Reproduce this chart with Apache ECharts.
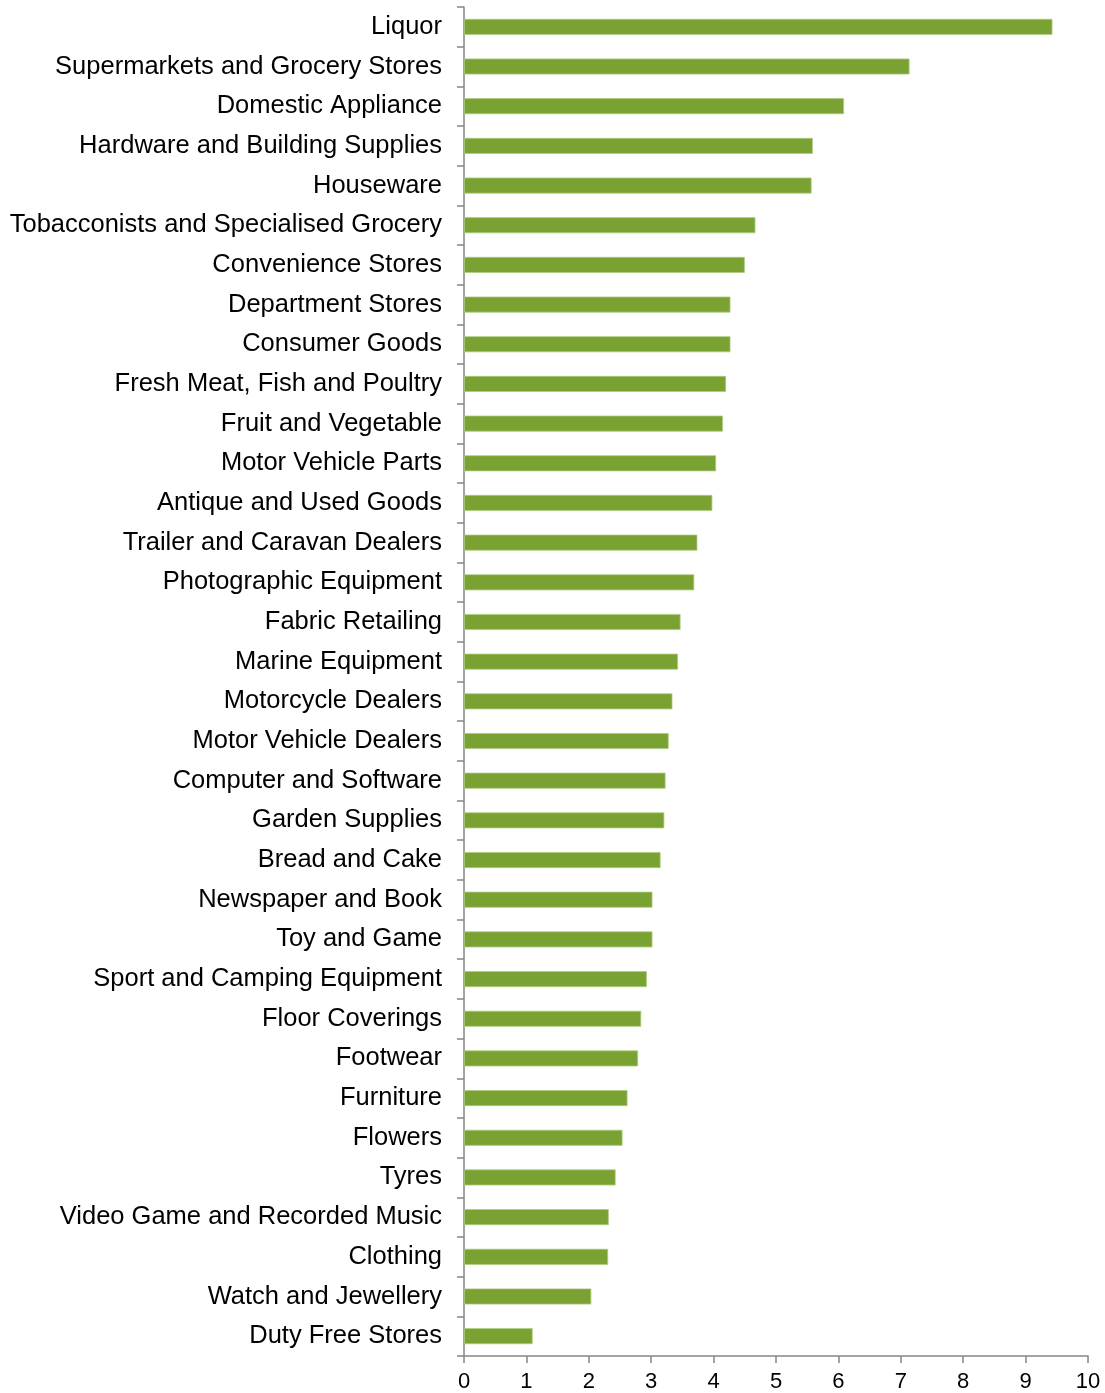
<!DOCTYPE html>
<html>
<head>
<meta charset="utf-8">
<script src="https://cdn.jsdelivr.net/npm/echarts@6/dist/echarts.min.js"></script>
<style>
html,body{margin:0;padding:0;background:#fff;}
#chart{width:1105px;height:1393px;}
</style>
</head>
<body>
<div id="chart"></div>
<script>
const categories = [
  "Liquor",
  "Supermarkets and Grocery Stores",
  "Domestic Appliance",
  "Hardware and Building Supplies",
  "Houseware",
  "Tobacconists and Specialised Grocery",
  "Convenience Stores",
  "Department Stores",
  "Consumer Goods",
  "Fresh Meat, Fish and Poultry",
  "Fruit and Vegetable",
  "Motor Vehicle Parts",
  "Antique and Used Goods",
  "Trailer and Caravan Dealers",
  "Photographic Equipment",
  "Fabric Retailing",
  "Marine Equipment",
  "Motorcycle Dealers",
  "Motor Vehicle Dealers",
  "Computer and Software",
  "Garden Supplies",
  "Bread and Cake",
  "Newspaper and Book",
  "Toy and Game",
  "Sport and Camping Equipment",
  "Floor Coverings",
  "Footwear",
  "Furniture",
  "Flowers",
  "Tyres",
  "Video Game and Recorded Music",
  "Clothing",
  "Watch and Jewellery",
  "Duty Free Stores"
];
const values = [
  9.43, 7.14, 6.09, 5.59, 5.57, 4.67, 4.50, 4.27, 4.27, 4.20,
  4.15, 4.04, 3.98, 3.74, 3.69, 3.47, 3.43, 3.34, 3.28, 3.23,
  3.21, 3.15, 3.02, 3.02, 2.93, 2.84, 2.79, 2.62, 2.54, 2.43,
  2.32, 2.31, 2.04, 1.10
];
const xMin = 0, xMax = 10, xStep = 1;

const chart = echarts.init(document.getElementById('chart'), null, {renderer: 'canvas'});
chart.setOption({
  animation: false,
  backgroundColor: '#ffffff',
  grid: {left: 464, right: 17, top: 7, bottom: 36, containLabel: false},
  xAxis: {
    type: 'value',
    min: xMin, max: xMax, interval: xStep,
    axisLine: {show: true, lineStyle: {color: '#868686', width: 1.5}},
    axisTick: {show: true, length: 7, lineStyle: {color: '#868686', width: 1.5}},
    splitLine: {show: false},
    axisLabel: {color: '#000', fontFamily: 'Liberation Sans, Arial, sans-serif', fontSize: 22, margin: 15}
  },
  yAxis: {
    type: 'category',
    data: categories,
    inverse: true,
    axisLine: {show: true, lineStyle: {color: '#868686', width: 1.5}},
    axisTick: {show: true, length: 7, lineStyle: {color: '#868686', width: 1.5}},
    axisLabel: {color: '#000', fontFamily: 'Liberation Sans, Arial, sans-serif', fontSize: 25.5, margin: 22, padding: [2, 0, 0, 0]}
  },
  series: [{
    type: 'bar',
    data: values,
    barWidth: 16,
    itemStyle: {color: '#79a232', borderColor: '#aecb80', borderWidth: 0.8}
  }]
});
</script>
</body>
</html>
